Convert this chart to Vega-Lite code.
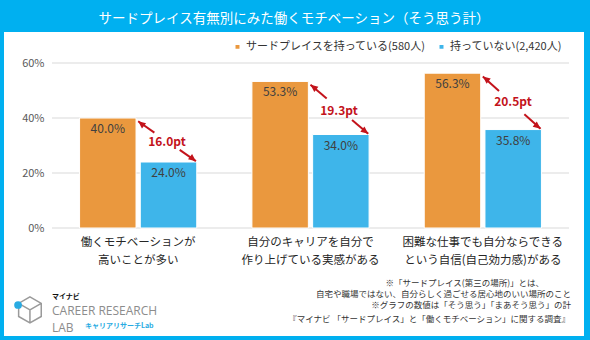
{
  "$schema": "https://vega.github.io/schema/vega-lite/v6.json",
  "width": 580,
  "height": 304,
  "autosize": "none",
  "padding": {"left": 4, "top": 32, "right": 6, "bottom": 4},
  "background": "#00B0F0",
  "title": {
    "text": "サードプレイス有無別にみた働くモチベーション（そう思う計）",
    "color": "white",
    "fontSize": 13.5,
    "fontWeight": "normal",
    "font": "Noto Sans CJK JP",
    "anchor": "middle",
    "frame": "group",
    "baseline": "middle",
    "offset": 0
  },
  "config": {
    "font": "Noto Sans CJK JP",
    "view": {"fill": "white", "stroke": null},
    "axis": {"domain": false, "ticks": false, "tickSize": 0, "grid": false},
    "axisY": {"labelFontSize": 11, "labelColor": "#595959", "labelPadding": 8, "offset": -48}
  },
  "datasets": {
    "bars": [
      {"item": "働くモチベーションが|高いことが多い", "group": "サードプレイスを持っている(580人)", "value": 0.400},
      {"item": "働くモチベーションが|高いことが多い", "group": "持っていない(2,420人)", "value": 0.240},
      {"item": "自分のキャリアを自分で|作り上げている実感がある", "group": "サードプレイスを持っている(580人)", "value": 0.533},
      {"item": "自分のキャリアを自分で|作り上げている実感がある", "group": "持っていない(2,420人)", "value": 0.340},
      {"item": "困難な仕事でも自分ならできる|という自信(自己効力感)がある", "group": "サードプレイスを持っている(580人)", "value": 0.563},
      {"item": "困難な仕事でも自分ならできる|という自信(自己効力感)がある", "group": "持っていない(2,420人)", "value": 0.358}
    ],
    "grid": [{"tick": 0}, {"tick": 0.2}, {"tick": 0.4}, {"tick": 0.6}],
    "segs": [
      {"x1": 0.50, "y1": 0.388, "x2": 0.594, "y2": 0.347},
      {"x1": 0.741, "y1": 0.284, "x2": 0.835, "y2": 0.243},
      {"x1": 1.50, "y1": 0.521, "x2": 1.594, "y2": 0.471},
      {"x1": 1.741, "y1": 0.393, "x2": 1.835, "y2": 0.343},
      {"x1": 2.50, "y1": 0.551, "x2": 2.594, "y2": 0.498},
      {"x1": 2.741, "y1": 0.414, "x2": 2.835, "y2": 0.361}
    ],
    "heads": [
      {"end": "start", "x": 0.50, "y": 0.388},
      {"end": "end", "x": 0.835, "y": 0.243},
      {"end": "start", "x": 1.50, "y": 0.521},
      {"end": "end", "x": 1.835, "y": 0.343},
      {"end": "start", "x": 2.50, "y": 0.551},
      {"end": "end", "x": 2.835, "y": 0.361}
    ],
    "diffs": [
      {"x": 0.667, "y": 0.313, "label": "16.0pt"},
      {"x": 1.665, "y": 0.425, "label": "19.3pt"},
      {"x": 2.675, "y": 0.458, "label": "20.5pt"}
    ],
    "notes": [
      {"x": 2.855, "y": -0.200, "text": "※「サードプレイス(第三の場所)」とは、"},
      {"x": 3.012, "y": -0.240, "text": "自宅や職場ではない、自分らしく過ごせる居心地のいい場所のこと"},
      {"x": 3.012, "y": -0.280, "text": "※グラフの数値は「そう思う」「まあそう思う」の計"},
      {"x": 3.006, "y": -0.331, "text": "『マイナビ 「サードプレイス」と「働くモチベーション」に関する調査』"}
    ],
    "logo": [
      {"kind": "brand", "x": 0.0, "y": -0.252, "text": "マイナビ"},
      {"kind": "name", "x": 0.0, "y": -0.302, "text": "CAREER RESEARCH"},
      {"kind": "name", "x": 0.0, "y": -0.362, "text": "LAB"},
      {"kind": "sub", "x": 0.191, "y": -0.355, "text": "キャリアリサーチLab"}
    ],
    "icon": [{"x": -0.128, "y": -0.298}],
    "dot": [{"x": -0.197, "y": -0.280}]
  },
  "resolve": {"scale": {"x": "independent"}},
  "layer": [
    {
      "data": {"name": "grid"},
      "mark": {"type": "rule", "color": "#D9D9D9", "strokeWidth": 1},
      "encoding": {
        "y": {"field": "tick", "type": "quantitative", "scale": {"domain": [0, 0.6], "range": [196, 31], "nice": false}, "axis": {"title": null, "format": ".0%", "values": [0, 0.2, 0.4, 0.6]}},
        "x": {"datum": 0, "type": "quantitative", "scale": {"domain": [0, 3], "range": [48, 565], "nice": false, "zero": false}, "axis": null},
        "x2": {"datum": 3}
      }
    },
    {
      "data": {"name": "bars"},
      "encoding": {
        "x": {
          "field": "item", "type": "nominal", "sort": null,
          "scale": {"range": [48, 565], "paddingInner": 0.32, "paddingOuter": 0.16},
          "axis": {"title": null, "labelExpr": "split(datum.label, '|')", "labelAngle": 0, "labelFontSize": 11.5, "labelColor": "#262626", "labelPadding": 8, "labelLineHeight": 18, "labelBaseline": "top", "labelLimit": 300, "offset": -108}
        },
        "xOffset": {"field": "group", "type": "nominal", "sort": null, "scale": {"paddingInner": 0.07}},
        "y": {"field": "value", "type": "quantitative", "scale": {"domain": [0, 0.6], "range": [196, 31], "nice": false}, "axis": {"title": null, "format": ".0%", "values": [0, 0.2, 0.4, 0.6]}}
      },
      "layer": [
        {
          "mark": {"type": "bar", "stroke": "white", "strokeWidth": 1},
          "encoding": {
            "color": {
              "field": "group", "type": "nominal", "sort": null,
              "scale": {"domain": ["サードプレイスを持っている(580人)", "持っていない(2,420人)"], "range": ["#EA983E", "#3EB5EA"]},
              "legend": {"title": null, "orient": "none", "legendX": 228, "legendY": 9, "direction": "horizontal", "symbolType": "square", "symbolSize": 30, "labelFontSize": 11, "labelColor": "#333333", "labelLimit": 300, "columnPadding": 9, "labelOffset": 3}
            }
          }
        },
        {
          "mark": {"type": "text", "dy": 11, "fontSize": 12, "color": "#404040"},
          "encoding": {"text": {"field": "value", "format": ".1%"}}
        }
      ]
    },
    {
      "layer": [
        {
          "data": {"name": "segs"},
          "mark": {"type": "rule", "color": "#C3131B", "strokeWidth": 2},
          "encoding": {
            "x": {"field": "x1", "type": "quantitative", "scale": {"domain": [0, 3], "range": [48, 565], "nice": false, "zero": false}, "axis": null},
            "x2": {"field": "x2"},
            "y": {"field": "y1", "type": "quantitative", "scale": {"domain": [0, 0.6], "range": [196, 31], "nice": false}, "axis": {"title": null, "format": ".0%", "values": [0, 0.2, 0.4, 0.6]}},
            "y2": {"field": "y2"}
          }
        },
        {
          "data": {"name": "heads"},
          "transform": [{"filter": "datum.end == 'start'"}],
          "mark": {"type": "point", "shape": "M0,0L0.45,1L-0.45,1Z", "filled": true, "color": "#C3131B", "opacity": 1, "size": 220, "angle": 308},
          "encoding": {
            "x": {"field": "x", "type": "quantitative", "scale": {"domain": [0, 3], "range": [48, 565], "nice": false, "zero": false}, "axis": null},
            "y": {"field": "y", "type": "quantitative", "scale": {"domain": [0, 0.6], "range": [196, 31], "nice": false}, "axis": {"title": null, "format": ".0%", "values": [0, 0.2, 0.4, 0.6]}}
          }
        },
        {
          "data": {"name": "heads"},
          "transform": [{"filter": "datum.end == 'end'"}],
          "mark": {"type": "point", "shape": "M0,0L0.45,1L-0.45,1Z", "filled": true, "color": "#C3131B", "opacity": 1, "size": 220, "angle": 128},
          "encoding": {
            "x": {"field": "x", "type": "quantitative", "scale": {"domain": [0, 3], "range": [48, 565], "nice": false, "zero": false}, "axis": null},
            "y": {"field": "y", "type": "quantitative", "scale": {"domain": [0, 0.6], "range": [196, 31], "nice": false}, "axis": {"title": null, "format": ".0%", "values": [0, 0.2, 0.4, 0.6]}}
          }
        },
        {
          "data": {"name": "diffs"},
          "mark": {"type": "text", "fontSize": 12, "fontWeight": "bold", "color": "#C3131B", "baseline": "middle"},
          "encoding": {
            "x": {"field": "x", "type": "quantitative", "scale": {"domain": [0, 3], "range": [48, 565], "nice": false, "zero": false}, "axis": null},
            "y": {"field": "y", "type": "quantitative", "scale": {"domain": [0, 0.6], "range": [196, 31], "nice": false}, "axis": {"title": null, "format": ".0%", "values": [0, 0.2, 0.4, 0.6]}},
            "text": {"field": "label"}
          }
        },
        {
          "data": {"name": "notes"},
          "mark": {"type": "text", "fontSize": 8.5, "color": "#333333", "align": "right", "baseline": "middle"},
          "encoding": {
            "x": {"field": "x", "type": "quantitative", "scale": {"domain": [0, 3], "range": [48, 565], "nice": false, "zero": false}, "axis": null},
            "y": {"field": "y", "type": "quantitative", "scale": {"domain": [0, 0.6], "range": [196, 31], "nice": false}, "axis": {"title": null, "format": ".0%", "values": [0, 0.2, 0.4, 0.6]}},
            "text": {"field": "text"}
          }
        },
        {
          "data": {"name": "logo"},
          "transform": [{"filter": "datum.kind == 'brand'"}],
          "mark": {"type": "text", "fontSize": 7, "fontWeight": "bold", "color": "#111111", "align": "left", "baseline": "middle"},
          "encoding": {
            "x": {"field": "x", "type": "quantitative", "scale": {"domain": [0, 3], "range": [48, 565], "nice": false, "zero": false}, "axis": null},
            "y": {"field": "y", "type": "quantitative", "scale": {"domain": [0, 0.6], "range": [196, 31], "nice": false}, "axis": {"title": null, "format": ".0%", "values": [0, 0.2, 0.4, 0.6]}},
            "text": {"field": "text"}
          }
        },
        {
          "data": {"name": "logo"},
          "transform": [{"filter": "datum.kind == 'name'"}],
          "mark": {"type": "text", "fontSize": 12, "font": "Open Sans", "color": "#8C8C8C", "align": "left", "baseline": "middle"},
          "encoding": {
            "x": {"field": "x", "type": "quantitative", "scale": {"domain": [0, 3], "range": [48, 565], "nice": false, "zero": false}, "axis": null},
            "y": {"field": "y", "type": "quantitative", "scale": {"domain": [0, 0.6], "range": [196, 31], "nice": false}, "axis": {"title": null, "format": ".0%", "values": [0, 0.2, 0.4, 0.6]}},
            "text": {"field": "text"}
          }
        },
        {
          "data": {"name": "logo"},
          "transform": [{"filter": "datum.kind == 'sub'"}],
          "mark": {"type": "text", "fontSize": 7, "fontWeight": "bold", "color": "#29ABE2", "align": "left", "baseline": "middle"},
          "encoding": {
            "x": {"field": "x", "type": "quantitative", "scale": {"domain": [0, 3], "range": [48, 565], "nice": false, "zero": false}, "axis": null},
            "y": {"field": "y", "type": "quantitative", "scale": {"domain": [0, 0.6], "range": [196, 31], "nice": false}, "axis": {"title": null, "format": ".0%", "values": [0, 0.2, 0.4, 0.6]}},
            "text": {"field": "text"}
          }
        },
        {
          "data": {"name": "icon"},
          "mark": {"type": "point", "shape": "M0,-1L0.87,-0.5L0.87,0.5L0,1L-0.87,0.5L-0.87,-0.5ZM0,0L0,1M0,0L0.87,-0.5M0,0L-0.87,-0.5", "filled": false, "color": "#9A9A9A", "strokeWidth": 1.5, "opacity": 1, "size": 676},
          "encoding": {
            "x": {"field": "x", "type": "quantitative", "scale": {"domain": [0, 3], "range": [48, 565], "nice": false, "zero": false}, "axis": null},
            "y": {"field": "y", "type": "quantitative", "scale": {"domain": [0, 0.6], "range": [196, 31], "nice": false}, "axis": {"title": null, "format": ".0%", "values": [0, 0.2, 0.4, 0.6]}}
          }
        },
        {
          "data": {"name": "dot"},
          "mark": {"type": "circle", "color": "#29ABE2", "opacity": 1, "size": 60},
          "encoding": {
            "x": {"field": "x", "type": "quantitative", "scale": {"domain": [0, 3], "range": [48, 565], "nice": false, "zero": false}, "axis": null},
            "y": {"field": "y", "type": "quantitative", "scale": {"domain": [0, 0.6], "range": [196, 31], "nice": false}, "axis": {"title": null, "format": ".0%", "values": [0, 0.2, 0.4, 0.6]}}
          }
        }
      ]
    }
  ]
}
